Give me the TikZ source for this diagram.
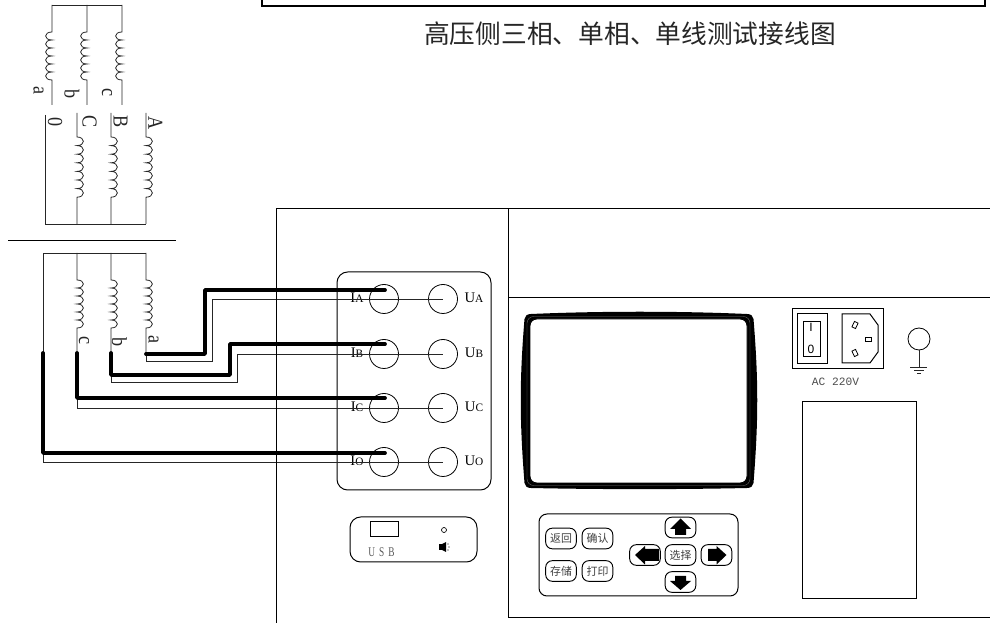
\documentclass[tikz,border=0pt]{standalone}
\usepackage{fontspec}
\usepackage{graphicx}
\setmainfont{Liberation Serif}
\setsansfont{Liberation Sans}
\newfontfamily\cjk{Noto Sans CJK SC}
\newfontfamily\monof{Liberation Mono}
\tikzset{
 x=0.75pt,y=-0.75pt,
 thinw/.style={line width=0.6pt,draw=black!85},
 thickw/.style={line width=2.8pt,draw=black,line cap=round,line join=round},
 frame/.style={line width=0.75pt,draw=black},
 rot/.style={rotate=-90,inner sep=0,font=\fontsize{16}{16}\selectfont,text=black!85},
 term/.style={circle,draw=black,line width=0.6pt,minimum size=21.75pt,inner sep=0},
 tlabel/.style={inner sep=0,font=\fontsize{11}{11}\selectfont},
 key/.style={rectangle,rounded corners=5pt,draw=black,line width=0.7pt,minimum width=23pt,minimum height=15.5pt,inner sep=0,font=\cjk\fontsize{8.2}{9}\selectfont,text=black!75},
}
\newcommand{\cond}[1]{\scalebox{0.85}[1]{#1}}
\newcommand{\coilv}[7]{% x, top, coil start, turns, end, bulge, step
 \draw[thinw] (#1,#2) -- (#1,#3)
 \foreach \i in {1,...,#4} { .. controls +(#6,0) and +(#6,0) .. ++(0,#7) } -- (#1,#5);
}
\begin{document}
\begin{tikzpicture}
\useasboundingbox (0,0) rectangle (990,623);
% top frame
\draw[line width=1.1pt] (262,0) -- (262,6) -- (985,6) -- (985,0);
\node[inner sep=0,font=\cjk\fontsize{19.3}{20}\selectfont,text=black!85] (title) at (630,34) {高压侧三相、单相、单线测试接线图};
% top transformer
\draw[thinw] (52,5) -- (122,5);
\coilv{52}{5}{32}{6}{105}{-8.5}{8}
\coilv{87}{5}{32}{6}{105}{-8.5}{8}
\coilv{122}{5}{32}{6}{105}{-8.5}{8}
\node[rot] (la) at (38.5,91) {\cond{a}};
\node[rot] (lb) at (72,94) {\cond{b}};
\node[rot] (lc) at (107,93) {\cond{c}};
% middle
\draw[thinw] (45,115) -- (45,224) -- (146,224);
\coilv{77}{113}{137}{7}{224}{8.5}{8.6}
\coilv{111}{113}{137}{7}{224}{8.5}{8.6}
\coilv{146}{113}{137}{7}{224}{8.5}{8.6}
\node[rot] (l0) at (55,122) {\cond{0}};
\node[rot] (lC) at (89.5,122) {\cond{C}};
\node[rot] (lB) at (120.5,122) {\cond{B}};
\node[rot] (lA) at (155.5,123) {\cond{A}};
\draw[line width=0.6pt] (8,240) -- (176,240);
% lower transformer
\draw[thinw] (146,253) -- (43,253) -- (43,352);
\coilv{77}{253}{280}{6}{352}{8.5}{8}
\coilv{111}{253}{280}{6}{352}{8.5}{8}
\coilv{146}{253}{280}{6}{354}{8.5}{8}
\node[rot] (l1) at (84,341) {\cond{c}};
\node[rot] (l2) at (119.5,342) {\cond{b}};
\node[rot] (l3) at (153.5,340) {\cond{a}};
% terminal box
\draw[frame,rounded corners=8pt] (337,272) rectangle (491,490);
\foreach \n/\y/\s in {A/299/A,B/354/B,C/408/C,O/462/O}{
 \node[term] (I\n) at (384,\y) {};
 \node[term] (U\n) at (443,\y) {};
 \coordinate (Ic\n) at (384,\y);
 \coordinate (Uc\n) at (443,\y);
 \node[tlabel,anchor=base] (Il\n) at (357,\y+4) {I{\fontsize{8.5}{9}\selectfont \s}};
 \node[tlabel,anchor=base] (Ul\n) at (474,\y+4) {U{\fontsize{8.5}{9}\selectfont \s}};
}
% thin wires
\draw[thinw] (146,354) -- (146,361) -- (212,361) -- (212,299) -- (UcA);
\draw[thinw] (111,352) -- (111,382) -- (237,382) -- (237,354) -- (UcB);
\draw[thinw] (77,352) -- (77,408) -- (UcC);
\draw[thinw] (43,352) -- (43,462) -- (UcO);
% thick wires
\draw[thickw] (146,354) -- (205,354) -- (205,290) -- (385,290);
\draw[thickw] (111,353) -- (111,375) -- (230,375) -- (230,344) -- (385,344);
\draw[thickw] (77,353) -- (77,398) -- (385,398);
\draw[thickw] (43,353) -- (43,453) -- (385,453);
% device
\draw[frame] (276,623) -- (276,209) -- (990,209);
\draw[frame] (508,209) -- (508,618) -- (990,618);
\draw[frame] (508,298) -- (990,298);
% screen
\fill[black] (531,314) .. controls (600,311) and (680,311) .. (747,314) .. controls (751,314) and (753,316) .. (753.5,319) .. controls (758.5,380) and (758.5,420) .. (753.5,483) .. controls (753,486) and (751,488) .. (747,488) .. controls (680,489.5) and (600,489.5) .. (531,488) .. controls (527,488) and (525,486) .. (524.5,483) .. controls (519.5,420) and (519.5,380) .. (524.5,319) .. controls (525,316) and (527,314) .. (531,314) -- cycle;
\draw[black!55,line width=0.25pt,rounded corners=5pt] (527,316.5) rectangle (750,485.5);
\draw[black,fill=white,line width=0.7pt,rounded corners=5pt] (530,319) rectangle (747,483);
% usb
\draw[frame,rounded corners=8pt] (350,517) rectangle (477,562);
\draw[frame] (370,522) rectangle (398,537);
\node[inner sep=0,font=\fontsize{10}{10}\selectfont,text=black!65] (usb) at (381.5,552) {\scalebox{0.7}[1]{U}\hspace{3pt}\scalebox{0.7}[1]{S}\hspace{3pt}\scalebox{0.7}[1]{B}};
\draw[line width=0.5pt] (444,530) circle (2.5);
\fill (439,544) rectangle (442,550);
\fill (442,544) -- (446,542) -- (446,552) -- (442,550) -- cycle;
\fill (448,544) circle (0.6) (449,547) circle (0.6) (448,550) circle (0.6);
% keypad
\draw[frame,rounded corners=6pt] (539,514) rectangle (738,596);
\node[key] (k1) at (561,538.5) {返回};
\node[key] (k2) at (597.5,538.5) {确认};
\node[key] (k3) at (561,571) {存储};
\node[key] (k4) at (597.5,571) {打印};
\node[key] (kup) at (680.5,527.5) {};
\node[key] (ksel) at (680.5,555) {选择};
\node[key] (kdn) at (680.5,582) {};
\node[key] (kl) at (645,555) {};
\node[key] (kr) at (716.5,555) {};
\fill (680.5,518.5) -- (691,529) -- (686,529) -- (686,535) -- (675,535) -- (675,529) -- (670,529) -- cycle;
\fill (680.5,590) -- (691,581) -- (686,581) -- (686,576) -- (675,576) -- (675,581) -- (670,581) -- cycle;
\fill (635,555) -- (645,546) -- (645,549) -- (659,549) -- (659,561) -- (645,561) -- (645,564.5) -- cycle;
\fill (726.5,555) -- (716.5,546) -- (716.5,549) -- (708,549) -- (708,561) -- (716.5,561) -- (716.5,564.5) -- cycle;
% power
\draw[frame] (792,309) rectangle (883,369);
\draw[frame] (797,314) rectangle (827,364);
\draw[frame] (803,322) rectangle (820,357);
\node[inner sep=0,font=\sffamily\fontsize{9}{9}\selectfont] (sw1) at (811,327) {I};
\node[inner sep=0,font=\sffamily\fontsize{9}{9}\selectfont] (sw0) at (811,349) {0};
\draw[frame] (842,314) -- (870,314) -- (878,325) -- (878,352) -- (870,363) -- (842,363) -- cycle;
\draw[line width=0.6pt,rotate around={-25:(855,325)}] (853,322) rectangle (857,328);
\draw[line width=0.6pt,rotate around={25:(855,353)}] (853,350) rectangle (857,356);
\draw[line width=0.6pt] (865,337) rectangle (871,341);
\node[inner sep=0,font=\monof\fontsize{8.4}{9}\selectfont,text=black!70] (ac) at (835.5,382) {AC 220V};
% ground
\node[circle,draw,line width=0.6pt,minimum size=16.5pt,inner sep=0] (gnd) at (919,339) {};
\coordinate (g1) at (919,367);
\draw[thinw] (gnd) -- (g1);
\draw[thinw] (910,367) -- (927,367);
\draw[thinw] (914,370) -- (924,370);
\draw[thinw] (917,373) -- (921,373);
% lower box
\draw[frame] (802,402) rectangle (916,599);
\end{tikzpicture}
\end{document}
